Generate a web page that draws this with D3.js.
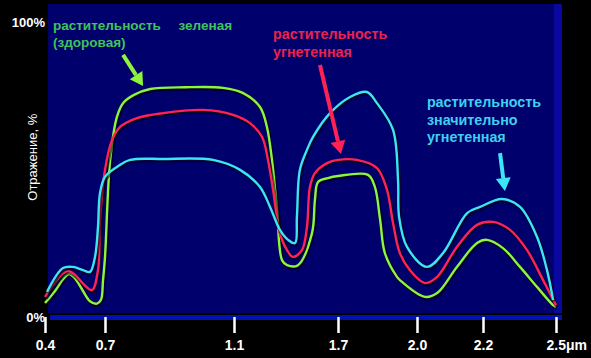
<!DOCTYPE html>
<html>
<head>
<meta charset="utf-8">
<script src="https://cdn.jsdelivr.net/npm/d3@7"></script>
<style>
  body { margin: 0; background: #000; }
  svg { display: block; }
  text { font-family: "Liberation Sans", Arial, sans-serif; }
</style>
</head>
<body>
<svg id="svg" width="591" height="358"></svg>
<script>
// wavelength (um) and reflectance (%)
const tickValues = [0.4, 0.7, 1.1, 1.7, 2.0, 2.2, 2.5];

const healthy = [
  [0.40,4.4],[0.45,8.5],[0.49,12.5],[0.52,14.3],[0.55,12.8],[0.59,8.5],[0.625,5.0],[0.66,4.2],
  [0.68,5.5],[0.69,12],[0.70,20],[0.716,53],[0.737,67.7],[0.756,72.4],[0.79,75.2],[0.84,77.2],
  [0.95,77.8],[1.066,77.6],[1.15,75.9],[1.25,71.1],[1.29,64.3],[1.319,53.1],[1.348,36.1],
  [1.377,19],[1.406,17.3],[1.469,17.3],[1.55,28.2],[1.567,39.5],[1.585,45.6],[1.642,46.9],
  [1.70,47.6],[1.814,48],[1.84,43.9],[1.86,32.7],[1.878,21.4],[1.924,13.3],[1.935,12.2],
  [2.024,6.5],[2.061,7.8],[2.121,16.7],[2.182,24.8],[2.216,25.9],[2.282,23.1],[2.352,16.7],
  [2.422,9.9],[2.488,3.7],[2.50,3.1]
];

const stressed = [
  [0.40,6.5],[0.44,10.5],[0.49,14.5],[0.515,15.3],[0.55,14],[0.59,11],[0.635,8.8],[0.665,15.6],
  [0.675,32.7],[0.70,49.7],[0.722,59.9],[0.747,64.3],[0.799,67.3],[0.88,69.0],[1.004,70.1],
  [1.097,68.4],[1.192,65.6],[1.262,60.9],[1.296,53.1],[1.325,43],[1.365,28.2],[1.406,22.4],
  [1.44,20.1],[1.492,22.4],[1.521,30.3],[1.538,43.9],[1.567,48.6],[1.637,52.0],[1.70,53.1],
  [1.772,53.1],[1.848,50.3],[1.886,42.9],[1.909,31.6],[1.935,21.4],[1.973,15.6],[2.024,11.2],
  [2.061,13.3],[2.121,23.5],[2.182,31.0],[2.241,32.0],[2.311,29.3],[2.381,22.4],[2.447,12.2],
  [2.50,3.7]
];

const severe = [
  [0.41,8.2],[0.49,16.3],[0.54,16.7],[0.59,15.6],[0.625,15.0],[0.65,20.1],[0.665,30.3],
  [0.675,41.8],[0.70,47.3],[0.737,50.7],[0.778,53.1],[0.88,53.4],[1.035,53.1],[1.135,49.7],
  [1.25,43.9],[1.308,37.1],[1.365,29.3],[1.412,25.9],[1.452,24.8],[1.463,33.7],[1.48,49.7],
  [1.521,56.5],[1.556,60.9],[1.654,69.0],[1.746,74.5],[1.81,76.2],[1.848,72.4],[1.909,63.3],
  [1.928,46.3],[1.932,33.7],[1.962,23.5],[2.03,16.7],[2.079,21.4],[2.152,35.0],[2.191,37.1],
  [2.278,39.8],[2.352,37.1],[2.422,26.9],[2.463,15.6],[2.488,5.4]
];

const seriesColors = ['#8cf53c', '#ff2256', '#3ce4f5'];
const labelColors = ['#3fc35a', '#e8244c', '#3fd0f0'];

// annotations: label lines, label anchor [um, %], arrow from / to [um, %]
const labelLines = [
  ['растительность зеленая', '(здоровая)'],
  ['растительность', 'угнетенная'],
  ['растительность', 'значительно', 'угнетенная']
];
const labelAt = [[0.44, 97.3], [1.325, 94.2], [2.03, 71]];
const arrowFrom = [[0.756, 88.8], [1.596, 85.4], [2.27, 55.4]];
const arrowTo = [[0.818, 78.2], [1.711, 55.1], [2.29, 42.5]];

var svg = d3.select('svg');

// the wavelength axis of the original is not linear, so map it piece by piece
var x = d3.scaleLinear()
  .domain(tickValues)
  .range([45, 105, 234, 338, 417, 483, 556]);

var y = d3.scaleLinear()
  .domain([0, 100])
  .range([316, 22]);

// panel
svg.append('rect')
  .attr('x', 48).attr('y', 4)
  .attr('width', 508).attr('height', 309)
  .attr('fill', '#00006c');
svg.append('rect')
  .attr('x', 554).attr('y', 4)
  .attr('width', 8).attr('height', 309)
  .attr('fill', '#0808a0');
svg.append('rect')
  .attr('x', 50).attr('y', 315)
  .attr('width', 512).attr('height', 5)
  .attr('fill', '#0012b4');

// x axis
var xAxis = svg.append('g')
  .attr('transform', 'translate(0, 317)')
  .call(d3.axisBottom(x)
    .tickValues(tickValues)
    .tickSize(16)
    .tickPadding(7)
    .tickFormat(d => d === 2.5 ? '2.5μm' : d.toFixed(1)));
xAxis.select('.domain').remove();
xAxis.selectAll('.tick line')
  .attr('stroke', '#fff')
  .attr('stroke-width', 2.5);
xAxis.selectAll('.tick text')
  .attr('fill', '#fff')
  .attr('font-size', 14)
  .attr('font-weight', 'bold')
  .attr('font-family', '"Liberation Sans", Arial, sans-serif');
xAxis.selectAll('.tick text')
  .filter(d => d === 2.5)
  .attr('text-anchor', 'start')
  .attr('x', -10);

// y axis: only 0% and 100%
var yAxis = svg.append('g')
  .attr('transform', 'translate(45, 0)')
  .call(d3.axisLeft(y)
    .tickValues([0, 100])
    .tickSize(0)
    .tickPadding(0)
    .tickFormat(d => d + '%'));
yAxis.select('.domain').remove();
yAxis.selectAll('.tick text')
  .attr('fill', '#fff')
  .attr('font-size', 13)
  .attr('font-weight', 'bold')
  .attr('font-family', '"Liberation Sans", Arial, sans-serif')
  .attr('dy', (d) => d === 0 ? '0.45em' : '0.35em');

svg.append('text')
  .attr('transform', `translate(37, ${y(54)}) rotate(-90)`)
  .attr('text-anchor', 'middle')
  .attr('fill', '#fff')
  .attr('font-size', 13)
  .text('Отражение, %');

// curves
var line = d3.line()
  .x(d => x(d[0]))
  .y(d => y(d[1]))
  .curve(d3.curveCatmullRom.alpha(0.5));

[healthy, stressed, severe].forEach((s, i) => {
  svg.append('path')
    .attr('d', line(s))
    .attr('fill', 'none')
    .attr('stroke', '#000')
    .attr('stroke-opacity', 0.55)
    .attr('stroke-width', 4)
    .attr('transform', 'translate(1,1.5)');
  svg.append('path')
    .attr('d', line(s))
    .attr('fill', 'none')
    .attr('stroke', seriesColors[i])
    .attr('stroke-width', 2.4)
    .attr('stroke-linejoin', 'round');
});

// labels
labelLines.forEach((lines, i) => {
  var t = svg.append('text')
    .attr('x', x(labelAt[i][0]))
    .attr('y', y(labelAt[i][1]))
    .attr('fill', labelColors[i])
    .attr('font-size', i === 0 ? 13.5 : 14.3)
    .attr('font-weight', 'bold')
    .attr('word-spacing', i === 0 ? 14 : 0);
  lines.forEach((l, j) => {
    t.append('tspan')
      .attr('x', x(labelAt[i][0]))
      .attr('dy', j === 0 ? 0 : 17.5)
      .text(l);
  });
});

// arrows
[0, 1, 2].forEach(i => {
  var x1 = x(arrowFrom[i][0]), y1 = y(arrowFrom[i][1]);
  var x2 = x(arrowTo[i][0]), y2 = y(arrowTo[i][1]);
  var a = Math.atan2(y2 - y1, x2 - x1);
  var head = 13, half = 7.5;
  var bx = x2 - head * Math.cos(a), by = y2 - head * Math.sin(a);
  var px = -Math.sin(a) * half, py = Math.cos(a) * half;
  var g = svg.append('g');
  g.append('line')
    .attr('x1', x1).attr('y1', y1)
    .attr('x2', bx).attr('y2', by)
    .attr('stroke', seriesColors[i])
    .attr('stroke-width', 4);
  g.append('path')
    .attr('d', `M${x2},${y2}L${bx + px},${by + py}L${bx - px},${by - py}Z`)
    .attr('fill', seriesColors[i]);
});
</script>
</body>
</html>
